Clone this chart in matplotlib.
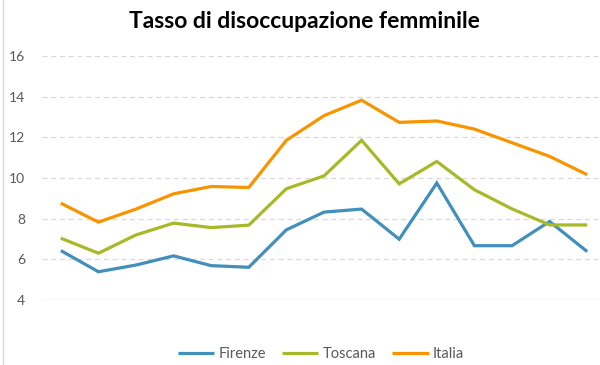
import matplotlib
matplotlib.use("Agg")
import matplotlib.pyplot as plt
import numpy as np

plt.rcParams['font.family'] = ['Lato', 'DejaVu Sans']

# tasso di disoccupazione femminile (%), 15 anni
anni = list(range(15))
firenze = [6.43, 5.39, 5.72, 6.17, 5.69, 5.61, 7.45, 8.32, 8.47, 6.99, 9.75, 6.67, 6.67, 7.86, 6.38]
toscana = [7.04, 6.30, 7.20, 7.78, 7.56, 7.68, 9.47, 10.10, 11.85, 9.71, 10.81, 9.42, 8.48, 7.69, 7.69]
italia = [8.76, 7.83, 8.47, 9.22, 9.58, 9.53, 11.85, 13.06, 13.82, 12.73, 12.80, 12.40, 11.73, 11.06, 10.16]

serie = [("Firenze", firenze, "#418FBA"),
         ("Toscana", toscana, "#A6BA28"),
         ("Italia", italia, "#F79400")]

fig = plt.figure(figsize=(6, 3.65), dpi=100)
ax = fig.add_axes([0.07, 0.178, 0.94, 0.669])

for nome, valori, colore in serie:
    ax.plot(anni, valori, color=colore, linewidth=2.3, label=nome,
            solid_joinstyle="miter", solid_capstyle="butt")

ax.set_xlim(-0.5, 14.5)
ax.set_ylim(4, 16)
ax.set_yticks(np.arange(4, 17, 2))
ax.set_xticks([])

for y in np.arange(6, 17, 2):
    ax.axhline(y, color="#D9D9D9", linewidth=0.9, linestyle=(0, (4, 3)), zorder=0)
ax.axhline(4, color="#D9D9D9", linewidth=1.0, zorder=0)

for s in ax.spines.values():
    s.set_visible(False)
ax.tick_params(axis="y", length=0, pad=12, labelsize=10, labelcolor="#595959")

# bordo sinistro della cornice del grafico
fig.add_artist(plt.Line2D([0.005, 0.005], [0, 1], color="#D9D9D9", linewidth=1.0))

fig.text(0.508, 0.942, "Tasso di disoccupazione femminile", ha="center", va="center",
         fontsize=16.5, fontweight="bold", color="#000000")

leg = fig.legend(loc="center", bbox_to_anchor=(0.535, 0.03), ncol=3, frameon=False,
                 fontsize=10.5, handlelength=2.5, handletextpad=0.3, columnspacing=1.1)
for t in leg.get_texts():
    t.set_color("#595959")

fig.savefig("out.png", dpi=100)
